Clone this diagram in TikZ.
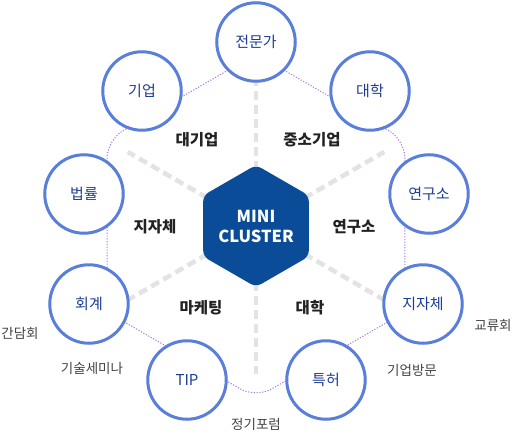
\documentclass[tikz,border=0pt]{standalone}
\usepackage{fontspec}
\setmainfont{Noto Sans CJK KR}
\definecolor{circblue}{HTML}{5A7FDA}
\definecolor{circtext}{HTML}{1C3E92}
\definecolor{hexblue}{HTML}{0A4C97}
\definecolor{spokegray}{HTML}{E3E3E3}
\definecolor{dotpurple}{HTML}{A47BE4}
\definecolor{labeldark}{HTML}{222222}
\definecolor{labelgray}{HTML}{444444}
\tikzset{
  member/.style={circle, draw=circblue, line width=3pt, fill=white, minimum size=78.5pt, inner sep=0pt,
    text=circtext, font=\fontsize{15}{15}\selectfont},
  spoke/.style={draw=spokegray, line width=4.5pt, dash pattern=on 9pt off 5pt},
  ring/.style={draw=dotpurple, line width=1pt, dash pattern=on 1.2pt off 1.6pt, rounded corners=18pt},
  sector/.style={text=labeldark, font=\fontsize{15.5}{15.5}\selectfont\bfseries},
  extra/.style={text=labelgray, font=\fontsize{13.5}{13.5}\selectfont},
}
\begin{document}
\begin{tikzpicture}[x=1pt,y=-1pt]
\useasboundingbox (0,0) rectangle (512,431);
\fill[white] (0,0) rectangle (512,431);
\coordinate (c) at (256,226);
% spoke ends
\foreach \i/\a in {1/-90,2/-30,3/30,4/90,5/150,6/210}{
  \coordinate (s\i) at ({256+148*cos(\a)},{226+148*sin(\a)});
}
\foreach \i in {1,...,6}{ \draw[spoke] (c) -- (s\i); }
% outer dotted hexagon
\foreach \i/\a in {1/-90,2/-30,3/30,4/90,5/150,6/210}{
  \coordinate (o\i) at ({256+172*cos(\a)},{226+172*sin(\a)});
}
\coordinate (om) at ({256-172*cos(30)},226);
\draw[ring] (om) -- (o6) -- (o1) -- (o2) -- (o3) -- (o4) -- (o5) -- (om);
% central hexagon
\foreach \i/\a in {1/-90,2/-30,3/30,4/90,5/150,6/210}{
  \coordinate (h\i) at ({256+61*cos(\a)},{226+61*sin(\a)});
}
\fill[hexblue, rounded corners=6pt] (h1) -- (h2) -- (h3) -- (h4) -- (h5) -- (h6) -- cycle;
\node[text=white, font=\fontsize{16.5}{20}\selectfont\bfseries, align=center] (core) at (256,226) {MINI\\CLUSTER};
% members
\node[member] (m1) at (256,42) {전문가};
\node[member] (m2) at (370,91) {대학};
\node[member] (m3) at (429,194) {연구소};
\node[member] (m4) at (423,304) {지자체};
\node[member] (m5) at (326,380) {특허};
\node[member] (m6) at (187,380) {TIP};
\node[member] (m7) at (89,304) {회계};
\node[member] (m8) at (84,194) {법률};
\node[member] (m9) at (142,91) {기업};
% sector labels
\node[sector] (l1) at (197,140) {대기업};
\node[sector] (l2) at (312,140) {중소기업};
\node[sector] (l3) at (155,227) {지자체};
\node[sector] (l4) at (354,227) {연구소};
\node[sector] (l5) at (201,308) {마케팅};
\node[sector] (l6) at (310,308) {대학};
% outer labels
\node[extra] (e1) at (20,333) {간담회};
\node[extra] (e2) at (92,368) {기술세미나};
\node[extra] (e3) at (493,325) {교류회};
\node[extra] (e4) at (412,370) {기업방문};
\node[extra] (e5) at (256,424) {정기포럼};
\end{tikzpicture}
\end{document}
